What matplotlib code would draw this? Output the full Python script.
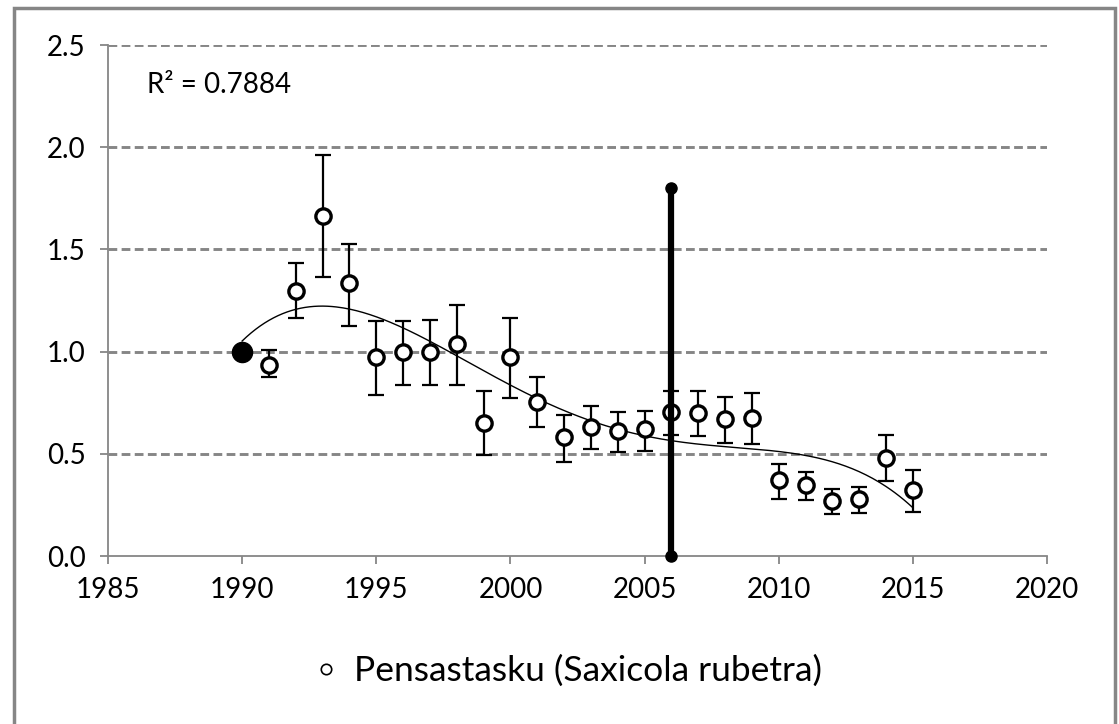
import numpy as np
import matplotlib
matplotlib.use("Agg")
import matplotlib.pyplot as plt

# ── Data ──────────────────────────────────────────────────────────────────────
years = [1990, 1991, 1992, 1993, 1994, 1995, 1996, 1997, 1998, 1999, 2000,
         2001, 2002, 2003, 2004, 2005, 2006, 2007, 2008, 2009, 2010, 2011,
         2012, 2013, 2014, 2015]
index = [1.00, 0.934, 1.297, 1.663, 1.336, 0.974, 0.998, 0.998, 1.037, 0.650,
         0.974, 0.753, 0.582, 0.631, 0.612, 0.621, 0.705, 0.700, 0.670, 0.675,
         0.372, 0.347, 0.269, 0.279, 0.479, 0.323]
err_hi = [1.00, 1.010, 1.433, 1.962, 1.526, 1.150, 1.150, 1.155, 1.228, 0.807,
          1.164, 0.876, 0.690, 0.734, 0.704, 0.709, 0.807, 0.807, 0.778, 0.797,
          0.450, 0.411, 0.328, 0.338, 0.592, 0.421]
err_lo = [1.00, 0.875, 1.164, 1.365, 1.125, 0.788, 0.837, 0.837, 0.837, 0.494,
          0.773, 0.631, 0.460, 0.523, 0.509, 0.514, 0.592, 0.587, 0.553, 0.548,
          0.279, 0.274, 0.205, 0.210, 0.367, 0.215]
marker_year = [2006, 2006]
marker_span = [0.0, 1.8]
trend_order = 4
r2_label = "R² = 0.7884"
legend_label = "Pensastasku (Saxicola rubetra)"

plt.rcParams['font.family'] = ['Lato', 'DejaVu Sans']
GRAY = '#868686'

x = np.array(years, dtype=float)
y = np.array(index)
lo = y - np.array(err_lo)
hi = np.array(err_hi) - y

fig = plt.figure(figsize=(11.19, 7.24), dpi=100)
ax = fig.add_axes([0.0965, 0.232, 0.8392, 0.7058])

# gridlines
for g in [0.5, 1.0, 1.5, 2.0, 2.5]:
    ax.axhline(g, color=GRAY, lw=2.1, ls=(0, (3, 1.5)), zorder=0)

# polynomial trend line (like Excel's trendline)
c = np.polyfit(x - 2000, y, trend_order)
xs = np.linspace(1990, 2015, 300)
ax.plot(xs, np.polyval(c, xs - 2000), color='black', lw=1, zorder=2)

ax.errorbar(x[1:], y[1:], yerr=[lo[1:], hi[1:]], fmt='none', ecolor='black',
            elinewidth=1.6, capsize=6, capthick=1.6, zorder=3)
ax.plot(x[1:], y[1:], 'o', ms=11, mfc='white', mec='black', mew=2.4, zorder=4)
ax.plot(x[:1], y[:1], 'o', ms=14.5, color='black', zorder=4)

ax.plot(marker_year, marker_span, color='black', lw=4.5, marker='o', ms=8,
        zorder=5, clip_on=False)

ax.text(1986.45, 2.305, r2_label, fontsize=20, va='center')

ax.set_xlim(1985, 2020)
ax.set_ylim(0, 2.5)
ax.set_xticks(range(1985, 2021, 5))
ax.set_yticks([0, 0.5, 1.0, 1.5, 2.0, 2.5])
ax.set_yticklabels([f"{v:.1f}" for v in [0, 0.5, 1.0, 1.5, 2.0, 2.5]])
for s in ['top', 'right']:
    ax.spines[s].set_visible(False)
for s in ['left', 'bottom']:
    ax.spines[s].set_color(GRAY)
    ax.spines[s].set_linewidth(1.3)
ax.tick_params(axis='both', colors=GRAY, labelcolor='black',
               labelsize=20, length=6, width=1.3)
ax.tick_params(axis='x', pad=9)
ax.tick_params(axis='y', pad=10)

ax.plot([], [], 'o', ms=7.5, mfc='white', mec='black', mew=1.2, label=legend_label)
fig.legend(loc='center', bbox_to_anchor=(0.505, 0.073), frameon=False,
           fontsize=25.5, handletextpad=0.3, handlelength=1.0)

fig.patches.append(plt.Rectangle((0.0125, -0.05), 0.984, 1.039,
                                 transform=fig.transFigure, fill=False,
                                 edgecolor=GRAY, lw=2.5))

fig.savefig('out.png', dpi=100)
